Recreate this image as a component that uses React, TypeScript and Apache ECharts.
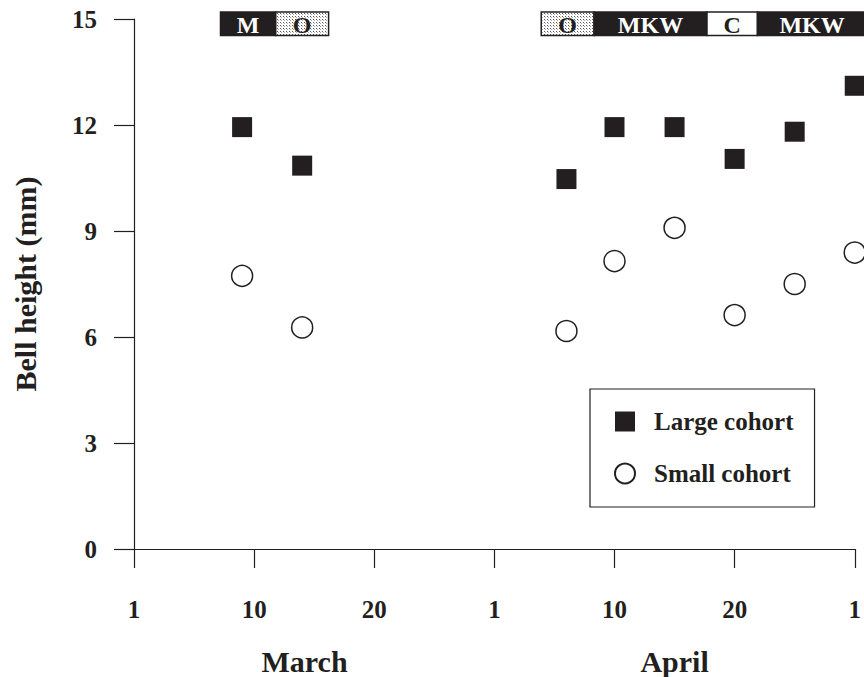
import React, { useEffect, useRef } from "react";
import * as echarts from "echarts";

// x positions are in "tick units": 10 units between each labelled tick
const xTickLabels = ["1", "10", "20", "1", "10", "20", "1"];
const monthLabels = ["March", "April"];
const monthPositions = [14.2, 45];

const cohortX = [9, 14, 36, 40, 45, 50, 55, 60];
const largeCohort = [11.94, 10.85, 10.47, 11.94, 11.94, 11.04, 11.81, 13.11];
const smallCohort = [7.73, 6.27, 6.17, 8.15, 9.09, 6.62, 7.5, 8.39];

const bandStarts = [7.2, 11.8, 33.9, 38.3, 47.7, 51.9];
const bandEnds = [11.8, 16.2, 38.3, 47.7, 51.9, 61];
const bandLabels = ["M", "O", "O", "MKW", "C", "MKW"];
const bandFills = ["black", "dots", "dots", "black", "white", "black"];
const BAND_TOP = 15.2;
const BAND_BOTTOM = 14.53;

const FONT = "'Times New Roman', 'Liberation Serif', serif";
const INK = "#231f20";

export default function App() {
  const ref = useRef<HTMLDivElement>(null);

  useEffect(() => {
    if (!ref.current) return;
    const chart = echarts.init(ref.current, null, { renderer: "svg" });

    const canvas = document.createElement("canvas");
    canvas.width = 3;
    canvas.height = 3;
    const ctx = canvas.getContext("2d");
    if (ctx) {
      ctx.fillStyle = "#ffffff";
      ctx.fillRect(0, 0, 3, 3);
      ctx.fillStyle = "#555555";
      ctx.fillRect(1, 1, 1, 1);
      ctx.fillStyle = "#aaaaaa";
      ctx.fillRect(2, 2, 1, 1);
    }
    const dotPattern: any = {
      image: canvas,
      repeat: "repeat",
      imageWidth: 3,
      imageHeight: 3,
    };

    const bandData = bandStarts.map((s, i) => [s, bandEnds[i], i]);

    const labelStyle = {
      fontFamily: FONT,
      fontWeight: "bold" as const,
      fontSize: 25,
      color: INK,
    };

    chart.setOption({
      animation: false,
      backgroundColor: "#ffffff",
      grid: { left: 134, top: 19, right: 8, bottom: 128, containLabel: false },
      legend: {
        data: ["Large cohort", "Small cohort"],
        orient: "vertical",
        left: 590,
        top: 389,
        padding: [20, 21, 21, 24],
        itemWidth: 20,
        itemHeight: 20,
        itemGap: 27,
        borderColor: INK,
        borderWidth: 1.2,
        backgroundColor: "#ffffff",
        textStyle: { ...labelStyle, lineHeight: 25, padding: [0, 0, 0, 14] },
      },
      xAxis: [
        {
          type: "value",
          min: 0,
          max: 60,
          interval: 10,
          splitLine: { show: false },
          axisLine: { show: true, onZero: false, lineStyle: { color: INK, width: 1.2 } },
          axisTick: { show: true, length: 19, lineStyle: { color: INK, width: 1.2 } },
          axisLabel: {
            ...labelStyle,
            margin: 48,
            formatter: (v: number) => {
              const idx = Math.round(v / 10);
              return xTickLabels[idx] ?? "";
            },
          },
        },
        {
          type: "value",
          min: 0,
          max: 60,
          position: "bottom",
          splitLine: { show: false },
          axisLine: { show: false },
          axisTick: { show: false },
          axisLabel: {
            ...labelStyle,
            fontSize: 30,
            margin: 97,
            customValues: monthPositions,
            formatter: (v: number) => {
              let best = -1;
              monthPositions.forEach((p, i) => {
                if (Math.abs(p - v) < 0.01) best = i;
              });
              return best >= 0 ? monthLabels[best] : "";
            },
          },
        },
      ],
      yAxis: {
        type: "value",
        min: 0,
        max: 15,
        interval: 3,
        name: "Bell height (mm)",
        nameLocation: "middle",
        nameGap: 94,
        nameTextStyle: { ...labelStyle, fontSize: 30 },
        splitLine: { show: false },
        axisLine: { show: true, lineStyle: { color: INK, width: 1.2 } },
        axisTick: { show: true, length: 20, lineStyle: { color: INK, width: 1.2 } },
        axisLabel: { ...labelStyle, margin: 37 },
      },
      series: [
        {
          name: "Large cohort",
          type: "scatter",
          symbol: "rect",
          symbolSize: 20,
          clip: false,
          itemStyle: { color: INK, opacity: 1 },
          data: cohortX.map((x, i) => [x, largeCohort[i]]),
        },
        {
          name: "Small cohort",
          type: "scatter",
          symbol: "circle",
          symbolSize: 21,
          clip: false,
          itemStyle: { color: "#ffffff", borderColor: INK, borderWidth: 1.5, opacity: 1 },
          data: cohortX.map((x, i) => [x, smallCohort[i]]),
        },
        {
          name: "bands",
          type: "custom",
          clip: false,
          silent: true,
          data: bandData,
          renderItem: (params: any, api: any) => {
            const i = params.dataIndex;
            const p0 = api.coord([api.value(0), BAND_TOP]);
            const p1 = api.coord([api.value(1), BAND_BOTTOM]);
            const kind = bandFills[i];
            const fill =
              kind === "black" ? INK : kind === "white" ? "#ffffff" : dotPattern;
            const textColor = kind === "black" ? "#ffffff" : INK;
            return {
              type: "group",
              children: [
                {
                  type: "rect",
                  shape: { x: p0[0], y: p0[1], width: p1[0] - p0[0], height: p1[1] - p0[1] },
                  style: { fill, stroke: INK, lineWidth: 1.5 },
                },
                {
                  type: "text",
                  style: {
                    text: bandLabels[i],
                    x: (p0[0] + p1[0]) / 2,
                    y: (p0[1] + p1[1]) / 2 + 1,
                    align: "center",
                    verticalAlign: "middle",
                    fill: textColor,
                    font: `bold 24px ${FONT}`,
                  },
                },
              ],
            };
          },
        },
      ],
    });

    return () => chart.dispose();
  }, []);

  return (
    <div
      ref={ref}
      style={{ position: "fixed", left: 0, top: 0, width: 864, height: 677 }}
    />
  );
}
